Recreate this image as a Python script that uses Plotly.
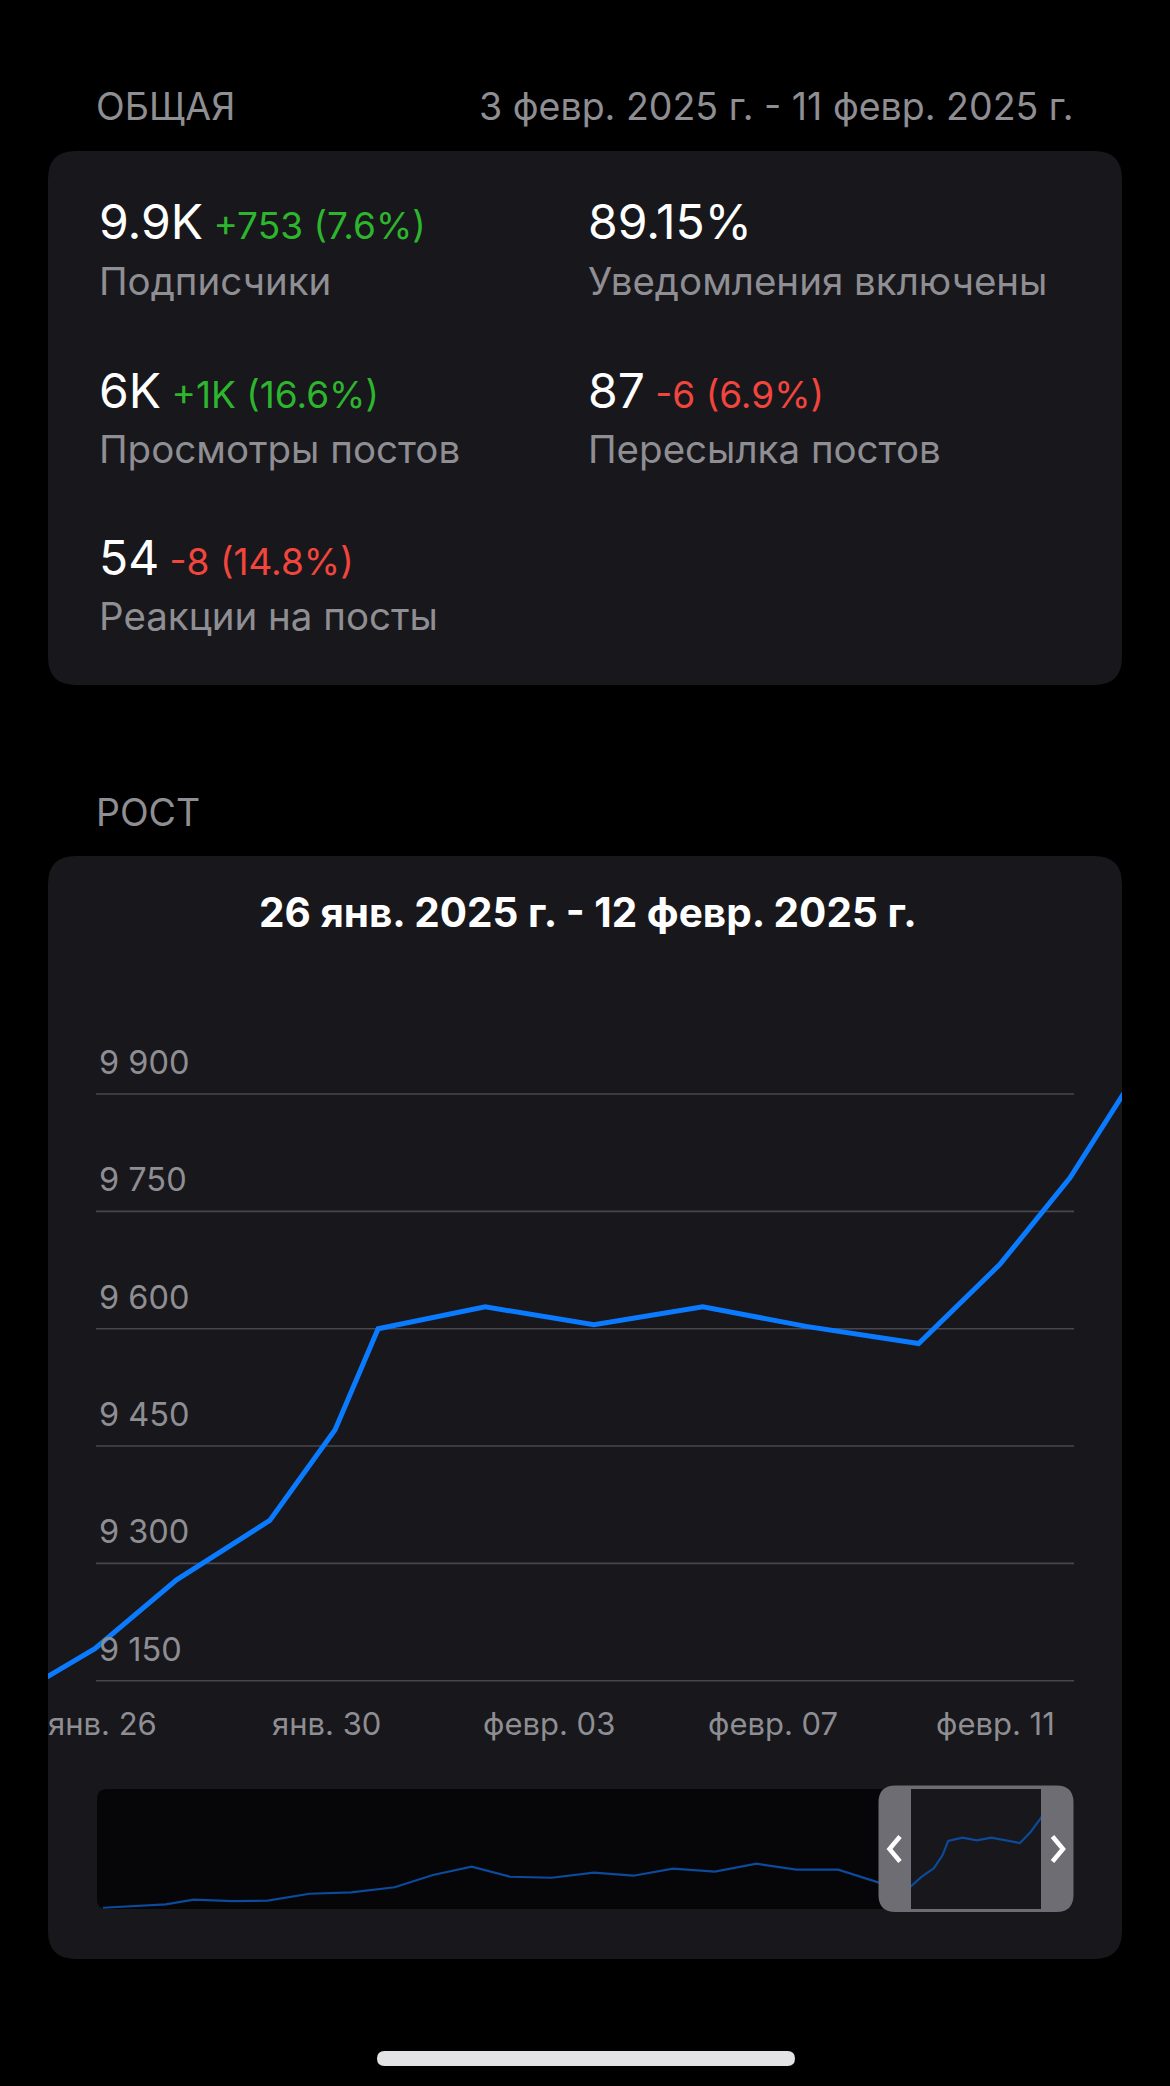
import plotly.graph_objects as go

W, H = 1170, 2086

# ---------------- data ----------------
summary_numbers = ["9.9K", "89.15%", "6K", "87", "54"]
summary_deltas = ["+753 (7.6%)", "", "+1K (16.6%)", "-6 (6.9%)", "-8 (14.8%)"]
summary_labels = ["Подписчики", "Уведомления включены", "Просмотры постов",
                  "Пересылка постов", "Реакции на посты"]

growth_dates = ["2025-01-24 12:00", "2025-01-25 20:30", "2025-01-27 07:40", "2025-01-28 23:45",
                "2025-01-30 03:50", "2025-01-30 22:20", "2025-02-01 20:25", "2025-02-03 19:10",
                "2025-02-05 18:00", "2025-02-07 14:25", "2025-02-09 14:50", "2025-02-11 01:40",
                "2025-02-12 07:55", "2025-02-13 13:55"]
growth_values = [9134, 9191, 9279, 9355, 9471, 9600, 9628, 9605, 9628, 9603, 9581, 9682, 9793, 9933]

nav_dates = ["2024-10-08 21:20", "2024-10-17 08:25", "2024-10-21 03:20", "2024-10-26 10:35",
             "2024-10-31 02:50", "2024-11-05 18:00", "2024-11-11 09:20", "2024-11-17 05:45",
             "2024-11-22 09:50", "2024-11-27 15:05", "2024-12-02 19:00", "2024-12-08 10:20",
             "2024-12-14 03:05", "2024-12-19 10:35", "2024-12-24 19:25", "2024-12-30 10:50",
             "2025-01-05 01:55", "2025-01-10 10:50", "2025-01-16 02:25", "2025-01-21 11:15"]
nav_values = [9003, 9034, 9075, 9063, 9066, 9128, 9141, 9186, 9295, 9370,
              9280, 9271, 9316, 9289, 9352, 9325, 9396, 9343, 9343, 9230]

y_ticks = [9150, 9300, 9450, 9600, 9750, 9900]
y_tick_labels = ["9 150", "9 300", "9 450", "9 600", "9 750", "9 900"]
x_ticks = ["2025-01-26", "2025-01-30", "2025-02-03", "2025-02-07", "2025-02-11"]
x_tick_labels = ["янв. 26", "янв. 30", "февр. 03", "февр. 07", "февр. 11"]

# ---------------- style ----------------
FONT = "Inter, Roboto, 'Noto Sans', sans-serif"
BG = "#000000"
CARD = "#18171c"
GREY = "#8e8e93"
GRID = "#48474d"
BLUE = "#0a7bff"
NAVBLUE = "#0c4a9c"
GREEN = "#2db52d"
RED = "#f2453d"


def PX(x):
    return x / W


def PY(y):
    return 1 - y / H


def rrect(x0, y0, x1, y1, r):
    pts = [("M", [(x0 + r, y0)]), ("L", [(x1 - r, y0)]), ("Q", [(x1, y0), (x1, y0 + r)]),
           ("L", [(x1, y1 - r)]), ("Q", [(x1, y1), (x1 - r, y1)]), ("L", [(x0 + r, y1)]),
           ("Q", [(x0, y1), (x0, y1 - r)]), ("L", [(x0, y0 + r)]), ("Q", [(x0, y0), (x0 + r, y0)])]
    s = ""
    for cmd, ps in pts:
        s += cmd + " " + " ".join(f"{PX(a):.6f},{PY(b):.6f}" for a, b in ps) + " "
    return s + "Z"


def rect(x0, y0, x1, y1):
    return (f"M {PX(x0):.6f},{PY(y0):.6f} L {PX(x1):.6f},{PY(y0):.6f} "
            f"L {PX(x1):.6f},{PY(y1):.6f} L {PX(x0):.6f},{PY(y1):.6f} Z")


def polyline(pts):
    return "M " + " L ".join(f"{PX(a):.6f},{PY(b):.6f}" for a, b in pts)


annotations = []


def text(t, x, baseline, size, color, anchor="left", bold=False):
    annotations.append(dict(
        text=f"<b>{t}</b>" if bold else t, x=PX(x), y=PY(baseline + 0.24 * size),
        xref="paper", yref="paper", xanchor=anchor, yanchor="bottom", showarrow=False,
        font=dict(family=FONT, size=size, color=color), borderpad=0))


fig = go.Figure()

# main line
fig.add_trace(go.Scatter(x=growth_dates, y=growth_values, mode="lines",
                         line=dict(color=BLUE, width=5), xaxis="x", yaxis="y",
                         hoverinfo="skip", showlegend=False))
# navigator line
fig.add_trace(go.Scatter(x=nav_dates + growth_dates, y=nav_values + growth_values, mode="lines",
                         line=dict(color=NAVBLUE, width=2.2), xaxis="x2", yaxis="y2",
                         hoverinfo="skip", showlegend=False))

shapes = []
# cards
shapes.append(dict(type="path", path=rrect(48, 151, 1122, 685, 28), xref="paper", yref="paper",
                   fillcolor=CARD, line=dict(width=0), layer="below"))
shapes.append(dict(type="path", path=rrect(48, 856, 1122, 1959, 28), xref="paper", yref="paper",
                   fillcolor=CARD, line=dict(width=0), layer="below"))
# navigator background and window
shapes.append(dict(type="path", path=rrect(97, 1789, 1073, 1909, 10), xref="paper", yref="paper",
                   fillcolor="#060508", line=dict(width=0), layer="below"))
shapes.append(dict(type="path", path=rect(911, 1789, 1041, 1909), xref="paper", yref="paper",
                   fillcolor=CARD, line=dict(width=0), layer="below"))
# handle with hole
shapes.append(dict(type="path", path=rrect(878.5, 1785.5, 1073.5, 1912, 17) + " " + rect(911, 1789, 1041, 1909),
                   xref="paper", yref="paper", fillcolor="#6e6d73", fillrule="evenodd",
                   line=dict(width=0), layer="above"))
# chevrons
shapes.append(dict(type="path", path=polyline([(900, 1836.5), (889.5, 1849), (900, 1861.5)]),
                   xref="paper", yref="paper", line=dict(color="white", width=4.5), layer="above"))
shapes.append(dict(type="path", path=polyline([(1052.5, 1836.5), (1063, 1849), (1052.5, 1861.5)]),
                   xref="paper", yref="paper", line=dict(color="white", width=4.5), layer="above"))
# home indicator
shapes.append(dict(type="path", path=rrect(377, 2051, 795, 2066, 7.5), xref="paper", yref="paper",
                   fillcolor="#e3e3e6", line=dict(width=0), layer="above"))
# gridlines
for v in y_ticks:
    shapes.append(dict(type="line", xref="paper", yref="y", x0=PX(96), x1=PX(1074), y0=v, y1=v,
                       line=dict(color=GRID, width=1.6), layer="below"))

# y tick labels
for v, lab in zip(y_ticks, y_tick_labels):
    annotations.append(dict(text=lab, x=PX(97), y=v, xref="paper", yref="y", xanchor="left",
                            yanchor="bottom", yshift=10, showarrow=False,
                            font=dict(family=FONT, size=32.5, color=GREY)))
# x tick labels
for d, lab in zip(x_ticks, x_tick_labels):
    annotations.append(dict(text=lab, x=d, y=PY(1737 + 0.24 * 31), xref="x", yref="paper",
                            xanchor="center", yanchor="bottom", showarrow=False,
                            font=dict(family=FONT, size=31, color=GREY)))

# header texts
text("ОБЩАЯ", 95, 121, 37.5, GREY)
text("3 февр. 2025 г. - 11 февр. 2025 г.", 1075, 121, 37.5, GREY, anchor="right")
text("РОСТ", 95, 827, 37.5, GREY)
text("26 янв. 2025 г. - 12 февр. 2025 г.", 588, 928, 40.5, "white", anchor="center", bold=True)

# summary grid
positions = [(98, 240, 296), (587, 240, 296), (98, 409, 464), (587, 409, 464), (98, 576, 631)]
for num, delta, lab, (x, nb, lb) in zip(summary_numbers, summary_deltas, summary_labels, positions):
    if delta:
        col = GREEN if delta.startswith("+") else RED
        t = (f"<span style='font-size:48px;color:#ffffff'>{num}</span>"
             f"<span style='font-size:37px;color:{col}'> {delta}</span>")
    else:
        t = f"<span style='font-size:48px;color:#ffffff'>{num}</span>"
    text(t, x, nb, 48, "white")
    text(lab, x, lb, 38.5, GREY)

fig.update_layout(
    width=W, height=H, margin=dict(l=0, r=0, t=0, b=0),
    paper_bgcolor=BG, plot_bgcolor="rgba(0,0,0,0)",
    showlegend=False, shapes=shapes, annotations=annotations,
    xaxis=dict(domain=[PX(48), PX(1122)], range=["2025-01-25 00:21", "2025-02-13 06:17"],
               showgrid=False, zeroline=False, showticklabels=False, showline=False, fixedrange=True),
    yaxis=dict(domain=[PY(1700), PY(1060)], range=[9125.4, 9943.5],
               showgrid=False, zeroline=False, showticklabels=False, showline=False, fixedrange=True),
    xaxis2=dict(domain=[PX(97), PX(1073)], range=["2024-10-08 01:55", "2025-02-16 18:30"],
                anchor="y2", showgrid=False, zeroline=False, showticklabels=False, fixedrange=True),
    yaxis2=dict(domain=[PY(1909), PY(1789)], range=[8992, 10063], anchor="x2",
                showgrid=False, zeroline=False, showticklabels=False, fixedrange=True),
)

fig.write_html("out.html", config={"displayModeBar": False},
               post_script="document.body.style.margin='0';document.body.style.background='#000';"
                           "document.body.style.overflow='hidden';")
